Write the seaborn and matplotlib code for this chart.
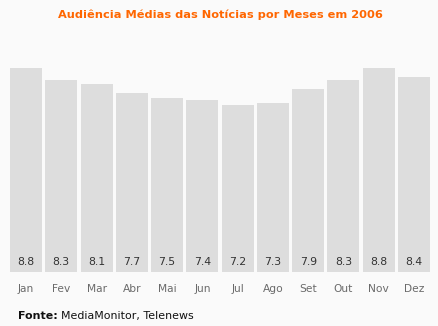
import matplotlib
matplotlib.use("Agg")
import matplotlib.pyplot as plt
import seaborn as sns
import pandas as pd

months = ["Jan", "Fev", "Mar", "Abr", "Mai", "Jun", "Jul", "Ago", "Set", "Out", "Nov", "Dez"]
values = [8.8, 8.3, 8.1, 7.7, 7.5, 7.4, 7.2, 7.3, 7.9, 8.3, 8.8, 8.4]
title = "Audiência Médias das Notícias por Meses em 2006"
source_bold = "Fonte:"
source_text = "MediaMonitor, Telenews"

sns.set_theme(style="white")
plt.rcParams['font.family'] = ['DejaVu Sans']

bg = "#FAFAFA"
fig = plt.figure(figsize=(4.39, 3.26), dpi=100, facecolor=bg)
W, H = 439, 326
ax = fig.add_axes([8.4 / W, 1 - 272 / H, (431.6 - 8.4) / W, (272 - 68) / H])
ax.set_facecolor(bg)

df = pd.DataFrame({"month": months, "value": values})
sns.barplot(data=df, x="month", y="value", color="#DDDDDD", saturation=1,
            width=0.907, ax=ax, edgecolor="none")
ax.set_xlim(-0.5, len(months) - 0.5)
ax.set_ylim(0, max(values))
for s in ax.spines.values():
    s.set_visible(False)
ax.set_yticks([])
ax.set_xlabel("")
ax.set_ylabel("")
ax.tick_params(axis="x", length=0, pad=9, labelsize=7.7, labelcolor="#6A6A6A")

for i, v in enumerate(values):
    ax.text(i, 0.43, f"{v:.1f}", ha="center", va="center", fontsize=7.8, color="#333333")

fig.text(220 / W, 1 - 15 / H, title, ha="center", va="center", fontsize=8.2,
         fontweight="bold", color="#FF6600")
t1 = fig.text(18 / W, 1 - 316 / H, source_bold, ha="left", va="center", fontsize=7.9,
              fontweight="bold", color="#111111")
fig.canvas.draw()
bb = t1.get_window_extent()
fig.text((bb.x1 + 3) / W, 1 - 316 / H, source_text, ha="left", va="center", fontsize=7.9,
         color="#111111")

fig.savefig("out.png", dpi=100, facecolor=bg)
